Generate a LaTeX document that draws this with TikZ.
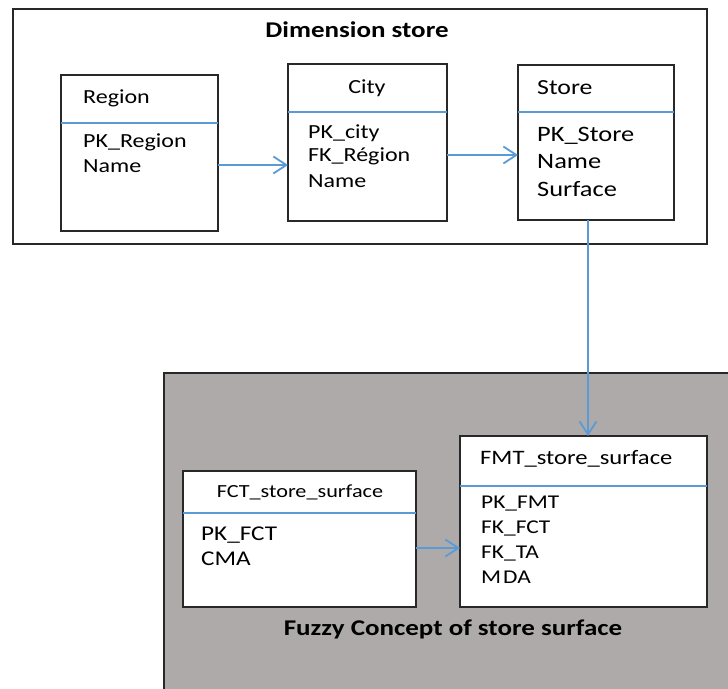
\documentclass[tikz,border=0pt]{standalone}
\usepackage{fontspec}
\setmainfont{Carlito}[FakeStretch=1.2]
\usetikzlibrary{arrows.meta}
\definecolor{lineblue}{RGB}{91,155,213}
\definecolor{panelgray}{RGB}{174,170,170}
\definecolor{edge}{RGB}{40,40,40}
\newcommand{\fsz}[1]{\fontsize{#1}{#1}\selectfont}

\begin{document}
\begin{tikzpicture}[x=1pt,y=-1pt,
  tbl/.style={draw=edge, line width=1.5pt, fill=white, anchor=north west,
              inner sep=0pt, outer sep=0pt},
  sep/.style={draw=lineblue, line width=1.3pt},
  conn/.style={draw=lineblue, line width=1.8pt,
               -{Straight Barb[length=13pt,width=17pt,line width=1.8pt]}},
  lbl/.style={inner sep=0pt, anchor=base west},
  clbl/.style={inner sep=0pt, anchor=base},
  ttl/.style={inner sep=0pt, anchor=base, font=\bfseries\fsz{22.5}}]
\useasboundingbox (0,0) rectangle (728,688);
\fill[white] (0,0) rectangle (728,688);

% ---- Dimension store panel ----
\node[draw=edge, line width=1.5pt, anchor=north west, inner sep=0pt,
      minimum width=694pt, minimum height=235pt] (dimpanel) at (12,8) {};
\node[ttl] (dimtitle) at (357,37) {Dimension store};

% Region table
\node[tbl, minimum width=157pt, minimum height=156pt] (region) at (61,75) {};
\draw[sep] (region.west |- 0,123) -- (region.east |- 0,123);
\node[lbl, font=\fsz{20}] (regionname) at (83,103) {Region};
\node[lbl, font=\fsz{20}] (regionpk) at (83,147) {PK\_Region};
\node[lbl, font=\fsz{20}] (regionnm) at (83,172) {Name};

% City table
\node[tbl, minimum width=159pt, minimum height=157pt] (city) at (288,64) {};
\draw[sep] (city.west |- 0,112) -- (city.east |- 0,112);
\node[clbl, font=\fsz{20}] (cityname) at (367,93.5) {City};
\node[lbl, font=\fsz{20}] (citypk) at (308,138) {PK\_city};
\node[lbl, font=\fsz{20}] (cityfk) at (308,161.5) {FK\_Région};
\node[lbl, font=\fsz{20}] (citynm) at (308,187.5) {Name};

% Store table
\node[tbl, minimum width=156pt, minimum height=155pt] (store) at (518,65) {};
\draw[sep] (store.west |- 0,112) -- (store.east |- 0,112);
\node[lbl, font=\fsz{21.5}] (storename) at (537,94.5) {Store};
\node[lbl, font=\fsz{22}] (storepk) at (537,141) {PK\_Store};
\node[lbl, font=\fsz{22}] (storenm) at (537,168.5) {Name};
\node[lbl, font=\fsz{22}] (storesf) at (537,196) {Surface};

% ---- Fuzzy concept panel ----
\path[fill=panelgray, draw=edge, line width=1.5pt] (164,373) rectangle (760,720);
\coordinate (fuzzycorner) at (164,373);

% FCT table
\node[tbl, minimum width=233pt, minimum height=136pt] (fct) at (183,471) {};
\draw[sep] (fct.west |- 0,513) -- (fct.east |- 0,513);
\node[clbl, font=\fsz{18.5}] (fctname) at (300,497) {FCT\_store\_surface};
\node[lbl, font=\fsz{21}] (fctpk) at (201,540) {PK\_FCT};
\node[lbl, font=\fsz{21}] (fctcma) at (201,565) {CMA};

% FMT table
\node[tbl, minimum width=247pt, minimum height=171pt] (fmt) at (460,436) {};
\draw[sep] (fmt.west |- 0,486) -- (fmt.east |- 0,486);
\node[lbl, font=\fsz{20.5}] (fmtname) at (480,464.5) {FMT\_store\_surface};
\node[lbl, font=\fsz{19.5}] (fmtpk) at (481,508) {PK\_FMT};
\node[lbl, font=\fsz{19.5}] (fmtfct) at (481,533) {FK\_FCT};
\node[lbl, font=\fsz{19.5}] (fmtta) at (481,558) {FK\_TA};
\node[lbl, font=\fsz{19.5}] (fmtmda) at (481,583) {M\kern2pt DA};

\node[ttl] (fuzzytitle) at (453,635) {Fuzzy Concept of store surface};

% ---- connectors ----
\draw[conn] (region.east |- 0,165) -- (city.west |- 0,165);
\draw[conn] (city.east |- 0,155) -- (store.west |- 0,155);
\draw[conn] (store.south -| 588,0) -- (fmt.north -| 588,0);
\draw[conn] (fct.east |- 0,548) -- (fmt.west |- 0,548);
\end{tikzpicture}
\end{document}
